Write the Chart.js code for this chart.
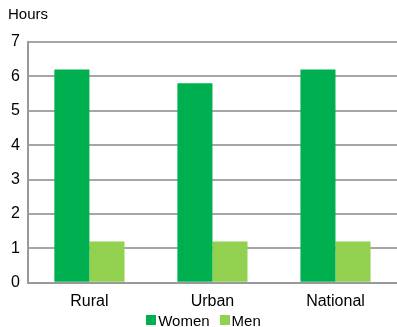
<!DOCTYPE html>
<html><head><meta charset="utf-8">
<script src="https://cdn.jsdelivr.net/npm/chart.js@4"></script>
<style>
html,body{margin:0;padding:0;background:#fff}
#wrap{position:relative;width:397px;height:327px}
#legend{position:absolute;left:5px;width:397px;top:311px;height:18px;display:flex;justify-content:center;align-items:center;font:15px "Liberation Sans", Arial, sans-serif;color:#000}
#legend .item{display:flex;align-items:center;margin:0 5px}
#legend .box{width:10px;height:10px;margin-right:2px}
</style>
</head><body>
<div id="wrap">
<canvas id="c" width="397" height="327"></canvas>
<div id="legend"></div>
</div>
<script>
const categories = ["Rural", "Urban", "National"];
const women = [6.2, 5.8, 6.2];
const men = [1.2, 1.2, 1.2];
const seriesNames = ["Women", "Men"];
const seriesColors = ["#00b050", "#92d050"];
const yTitle = "Hours";

const titlePlugin = {
  id: 'ytitle',
  afterDraw(chart) {
    const ctx = chart.ctx;
    ctx.save();
    ctx.font = '15px "Liberation Sans", Arial, sans-serif';
    ctx.fillStyle = '#000';
    ctx.textBaseline = 'middle';
    ctx.textAlign = 'left';
    ctx.fillText(yTitle, 8, 15);
    ctx.restore();
  }
};

const chart = new Chart(document.getElementById('c'), {
  type: 'bar',
  data: {
    labels: categories,
    datasets: [
      { label: seriesNames[0], data: women, backgroundColor: seriesColors[0], borderWidth: 0 },
      { label: seriesNames[1], data: men, backgroundColor: seriesColors[1], borderWidth: 0 }
    ]
  },
  options: {
    responsive: false,
    animation: false,
    devicePixelRatio: 1,
    layout: { padding: { top: 42, right: 0, left: 3, bottom: 7 } },
    datasets: { bar: { categoryPercentage: 0.57, barPercentage: 1 } },
    plugins: {
      legend: { display: false },
      tooltip: { enabled: false }
    },
    scales: {
      x: {
        grid: { display: false, drawTicks: false },
        border: { color: '#999', width: 2 },
        ticks: { color: '#000', padding: 9, font: { family: '"Liberation Sans", Arial, sans-serif', size: 16 } }
      },
      y: {
        min: 0, max: 7,
        ticks: { stepSize: 1, color: '#000', padding: 8, font: { family: '"Liberation Sans", Arial, sans-serif', size: 16 } },
        grid: { color: '#a6a6a6', lineWidth: 2, drawTicks: false },
        border: { color: '#999', width: 2 }
      }
    }
  },
  plugins: [titlePlugin]
});

const lg = document.getElementById('legend');
chart.data.datasets.forEach(ds => {
  const it = document.createElement('div'); it.className = 'item';
  const b = document.createElement('span'); b.className = 'box'; b.style.background = ds.backgroundColor;
  const t = document.createElement('span'); t.textContent = ds.label;
  it.appendChild(b); it.appendChild(t); lg.appendChild(it);
});
</script>
</body></html>
